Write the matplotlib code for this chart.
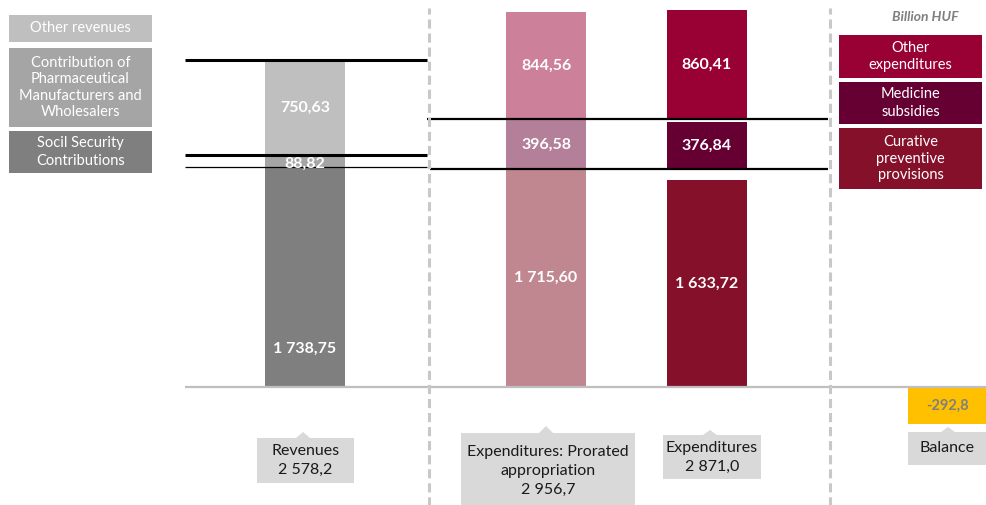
import matplotlib.pyplot as plt
from matplotlib.patches import Rectangle, Polygon
import numpy as np

plt.rcParams["font.family"] = ["Lato", "DejaVu Sans"]

W, H = 986, 505
DPI = 100

# data (billion HUF)
revenue_names = ["Socil Security\nContributions",
                 "Contribution of\nPharmaceutical\nManufacturers and\nWholesalers",
                 "Other revenues"]
revenues = [1738.75, 88.82, 750.63]
revenue_labels = ["1 738,75", "88,82", "750,63"]
revenue_colors = ["#7f7f7f", "#a5a5a5", "#bfbfbf"]

expenditure_names = ["Curative\npreventive\nprovisions", "Medicine\nsubsidies", "Other\nexpenditures"]
prorated = [1715.60, 396.58, 844.56]
prorated_labels = ["1 715,60", "396,58", "844,56"]
prorated_colors = ["#c08791", "#b47f98", "#cc809a"]

expenditures = [1633.72, 376.84, 860.41]
expenditure_labels = ["1 633,72", "376,84", "860,41"]
expenditure_colors = ["#85102a", "#660033", "#990033"]

balance = -292.8
balance_label = "-292,8"

totals = ["Revenues\n2 578,2", "Expenditures: Prorated\nappropriation\n2 956,7",
          "Expenditures\n2 871,0", "Balance"]
positions = [0, 1.5, 2.5, 4]

fig = plt.figure(figsize=(W / DPI, H / DPI), dpi=DPI)
ax = fig.add_axes([0, 0, 1, 1])
ax.set_xlim(-1.898, 4.238)
ax.set_ylim(-930, 3052)
ax.axis("off")


def px(x, y):
    """pixel (from top-left) -> figure fraction"""
    return x / W, 1 - y / H


def box(x0, y0, x1, y1, color, text, tcolor="white", size=10.5, pointer=None, ls=1.3):
    a = px(x0, y0)
    b = px(x1, y1)
    if pointer is None:
        fig.patches.append(Rectangle((a[0], b[1]), b[0] - a[0], a[1] - b[1],
                                     transform=fig.transFigure, color=color, lw=0))
    else:
        pxc, ptop = pointer
        pts = [px(x0, y0), px(pxc - 7, y0), px(pxc, ptop), px(pxc + 7, y0),
               px(x1, y0), px(x1, y1), px(x0, y1)]
        fig.patches.append(Polygon(pts, closed=True, transform=fig.transFigure,
                                   color=color, lw=0))
    c = px((x0 + x1) / 2, (y0 + y1) / 2)
    fig.text(c[0], c[1], text, color=tcolor, fontsize=size, ha="center", va="center",
             linespacing=ls)


def value(x, y, s):
    ax.text(x, y, s, color="white", fontsize=11.5, fontweight="bold",
            ha="center", va="center")


# stacked bars
bottom = 0
for v, col in zip(revenues, revenue_colors):
    ax.bar(positions[0], v, 0.5, bottom=bottom, color=col, lw=0)
    bottom += v

cum_prorated = np.concatenate([[0], np.cumsum(prorated)])
for i, (v, col) in enumerate(zip(prorated, prorated_colors)):
    ax.bar(positions[1], v, 0.5, bottom=cum_prorated[i], color=col, lw=0)
    value(positions[1], cum_prorated[i] + v / 2, prorated_labels[i])

# expenditure segments start at the prorated boundaries
for i, (v, col) in enumerate(zip(expenditures, expenditure_colors)):
    ax.bar(positions[2], v, 0.5, bottom=cum_prorated[i], color=col, lw=0)
    value(positions[2], cum_prorated[i] + v / 2, expenditure_labels[i])

ax.bar(positions[3], balance, 0.5, color="#ffc000", lw=0)
ax.text(positions[3], balance / 2, balance_label, color="#808080", fontsize=10.5,
        fontweight="bold", ha="center", va="center")

cum_rev = np.cumsum(revenues)
value(positions[0], 300, revenue_labels[0])
value(positions[0], cum_rev[0] + revenues[1] / 2 - 25, revenue_labels[1])
value(positions[0], cum_rev[1] + revenues[2] / 2, revenue_labels[2])

# reference lines
ax.hlines(cum_rev[2], -0.747, 0.759, color="black", lw=2.2)
ax.hlines(cum_rev[1], -0.747, 0.759, color="black", lw=2.2)
ax.hlines(cum_rev[0], -0.747, 0.759, color="black", lw=0.9)
ax.hlines(cum_prorated[2], 0.759, 3.254, color="black", lw=1.6)
ax.hlines(cum_prorated[1], 0.78, 3.254, color="black", lw=1.6)

ax.hlines(0, -0.747, 4.3, color="#bfbfbf", lw=1.6)
for xv in [0.77, 3.27]:
    ax.plot([xv, xv], [-1000, 2990], color="#c8c8c8", lw=2.2, dashes=(3, 1.6))

# left legend
box(9, 15, 152, 42, revenue_colors[2], revenue_names[2])
box(9, 48, 152, 127, revenue_colors[1], revenue_names[1], ls=1.22)
box(9, 131, 152, 173, revenue_colors[0], revenue_names[0])

# right legend
t = px(925, 17)
fig.text(t[0], t[1], "Billion HUF", color="#808080", fontsize=10, fontweight="bold",
         style="italic", ha="center", va="center")
box(839, 35, 982, 78, expenditure_colors[2], expenditure_names[2], ls=1.35)
box(839, 82, 982, 124, expenditure_colors[1], expenditure_names[1], ls=1.35)
box(839, 128, 982, 189, expenditure_colors[0], expenditure_names[0], ls=1.25)

# callouts
kw = dict(tcolor="#1a1a1a", size=11.5, ls=1.45)
box(257, 438, 354, 483, "#d9d9d9", totals[0], pointer=(303, 432), **kw)
box(461, 433, 635, 508, "#d9d9d9", totals[1], pointer=(546, 426), **kw)
box(663, 435, 761, 479, "#d9d9d9", totals[2], pointer=(710, 430), **kw)
box(908, 432, 986, 465, "#d9d9d9", totals[3], pointer=(948, 427), **kw)

fig.savefig("out.png", dpi=DPI)
